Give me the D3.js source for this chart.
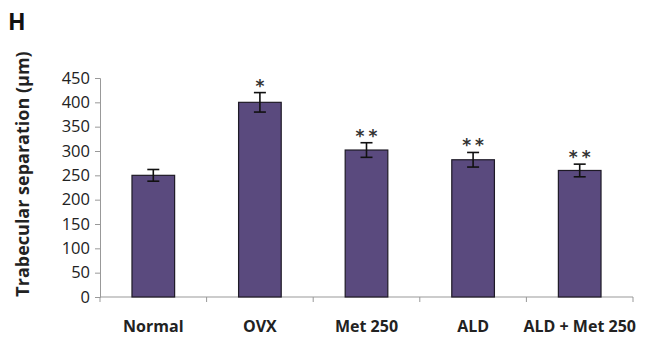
<!DOCTYPE html>
<meta charset="utf-8">
<style>
  body { margin: 0; background: #fff; }
  .tick text { font-family: "Open Sans", sans-serif; }
  .ylab { font-family: "Open Sans", sans-serif; font-weight: bold; font-size: 18px; fill: #222; }
  .cat { font-family: "Open Sans", sans-serif; font-weight: bold; font-size: 16px; fill: #222; }
  .star { font-family: "DejaVu Sans", sans-serif; font-weight: bold; font-size: 17px; fill: #333; }
</style>
<svg width="646" height="339"></svg>
<script src="https://d3js.org/d3.v7.min.js"></script>
<script>

// data
var groups = ['Normal', 'OVX', 'Met 250', 'ALD', 'ALD + Met 250'];
var means = [250, 400, 302, 282, 260];
var errors = [12, 20, 15, 15, 13];
var marks = ['', '*', '**', '**', '**'];
var yTicks = [0, 50, 100, 150, 200, 250, 300, 350, 400, 450];

var svg = d3.select('svg');

var x = d3.scaleBand()
    .domain(groups)
    .range([100, 633]);

var y = d3.scaleLinear()
    .domain([0, 450])
    .range([297, 78]);

var barW = x.bandwidth() * 0.4;

// y axis
var yAxis = svg.append('g')
    .attr('transform', 'translate(100,0)')
    .call(d3.axisLeft(y).tickValues(yTicks).tickSize(5).tickPadding(5));
yAxis.select('.domain').attr('stroke', '#999');
yAxis.selectAll('.tick line').attr('stroke', '#999');
yAxis.selectAll('.tick text').attr('font-size', 16.5).attr('fill', '#222');

// x axis: ticks between categories
var xAxis = svg.append('g');
xAxis.append('line')
    .attr('x1', 100).attr('x2', 633)
    .attr('y1', y(0)).attr('y2', y(0))
    .attr('stroke', '#999');
var edges = groups.map(function(g) { return x(g); }).concat([633]);
xAxis.selectAll('.xt')
    .data(edges)
    .enter().append('line')
    .attr('x1', function(d) { return d; })
    .attr('x2', function(d) { return d; })
    .attr('y1', y(0))
    .attr('y2', y(0) + 5)
    .attr('stroke', '#999');

// bars
svg.selectAll('.bar')
    .data(groups)
    .enter().append('rect')
    .attr('x', function(d) { return x(d) + x.bandwidth() / 2 - barW / 2; })
    .attr('y', function(d, i) { return y(means[i]); })
    .attr('width', barW)
    .attr('height', function(d, i) { return y(0) - y(means[i]); })
    .attr('fill', '#5a4a7e')
    .attr('stroke', '#1e1a26')
    .attr('stroke-width', 1.2);

// error bars
var eb = svg.selectAll('.err')
    .data(groups)
    .enter().append('g')
    .attr('stroke', '#111')
    .attr('stroke-width', 1.6);
function cx(d) { return x(d) + x.bandwidth() / 2; }
eb.append('line')
    .attr('x1', cx).attr('x2', cx)
    .attr('y1', function(d, i) { return y(means[i] + errors[i]); })
    .attr('y2', function(d, i) { return y(means[i] - errors[i]); });
eb.append('line')
    .attr('x1', function(d) { return cx(d) - 6; })
    .attr('x2', function(d) { return cx(d) + 6; })
    .attr('y1', function(d, i) { return y(means[i] + errors[i]); })
    .attr('y2', function(d, i) { return y(means[i] + errors[i]); });
eb.append('line')
    .attr('x1', function(d) { return cx(d) - 6; })
    .attr('x2', function(d) { return cx(d) + 6; })
    .attr('y1', function(d, i) { return y(means[i] - errors[i]); })
    .attr('y2', function(d, i) { return y(means[i] - errors[i]); });

// significance stars
svg.selectAll('.star')
    .data(groups)
    .enter().append('text')
    .attr('class', 'star')
    .attr('x', function(d) { return cx(d) + 2; })
    .attr('y', function(d, i) { return y(means[i] + errors[i]) - 1; })
    .attr('text-anchor', 'middle')
    .attr('letter-spacing', 4)
    .text(function(d, i) { return marks[i]; });

// category labels
svg.selectAll('.cat')
    .data(groups)
    .enter().append('text')
    .attr('class', 'cat')
    .attr('x', cx)
    .attr('y', 332)
    .attr('text-anchor', 'middle')
    .text(function(d) { return d; });

// y label
svg.append('text')
    .attr('class', 'ylab')
    .attr('transform', 'translate(29,174) rotate(-90)')
    .attr('text-anchor', 'middle')
    .text('Trabecular separation (μm)');

// panel letter
svg.append('text')
    .attr('x', 8)
    .attr('y', 30)
    .attr('font-family', '"Open Sans", sans-serif')
    .attr('font-weight', 'bold')
    .attr('font-size', 23)
    .attr('fill', '#111')
    .text('H');

</script>
